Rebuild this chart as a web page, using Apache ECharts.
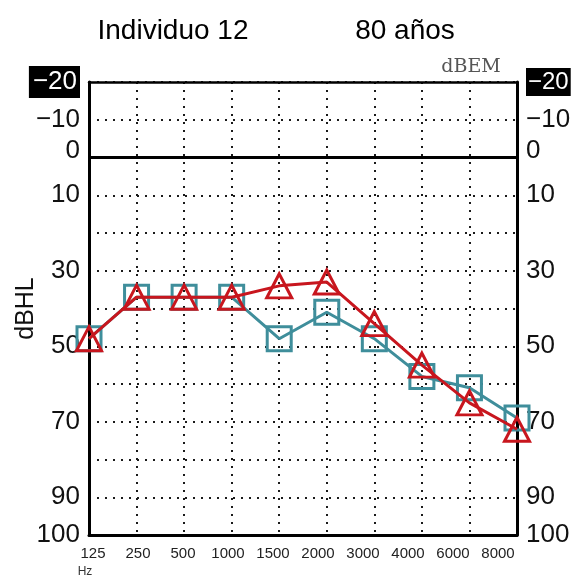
<!DOCTYPE html>
<html>
<head>
<meta charset="utf-8">
<script src="https://cdn.jsdelivr.net/npm/echarts@6/dist/echarts.min.js"></script>
<style>
  html, body { margin: 0; padding: 0; background: #fff; }
  #chart { width: 576px; height: 580px; }
</style>
</head>
<body>
<div id="chart"></div>
<script>
// Audiogram frequencies (Hz), evenly spaced columns
const freqLabels = ['125', '250', '500', '1000', '1500', '2000', '3000', '4000', '6000', '8000'];
// Hearing thresholds in dB HL
const redEar = [48, 37, 37, 37, 34, 33, 44, 55, 65, 72];   // triangles
const tealEar = [48, 37, 37, 37, 48, 41, 48, 58, 61, 69];  // squares
// Level values that carry a tick label
const levelLabels = [-20, -10, 0, 10, 30, 50, 70, 90, 100];

const RED = '#c8161e';
const TEAL = '#3f8e9b';
const digitFont = '"Liberation Sans Narrow", "Liberation Sans", Arial, sans-serif';
const LEVEL_FONT = 26;

const chart = echarts.init(document.getElementById('chart'), null, { renderer: 'canvas' });

function levelFormatter(v) {
  if (!levelLabels.includes(v)) return '';
  const s = v < 0 ? '\u2212' + Math.abs(v) : String(v);
  if (v === -20) return '{box|' + s + '}';
  if (v === 0) return '{zero|' + s + '}';
  return s;
}

const dotted = { color: '#1a1a1a', width: 2, type: [2, 6] };

function levelAxis(side, boxFont, boxPad) {
  return {
    type: 'value',
    gridIndex: 0,
    position: side,
    inverse: true,
    min: -20,
    max: 100,
    interval: 10,
    axisLine: { show: true, lineStyle: { color: '#000', width: 3 } },
    axisTick: { show: false },
    splitLine: { show: side === 'left', lineStyle: dotted },
    axisLabel: {
      show: true,
      showMinLabel: true,
      showMaxLabel: true,
      margin: 9,
      color: '#111',
      fontFamily: digitFont,
      fontSize: LEVEL_FONT,
      formatter: levelFormatter,
      rich: {
        box: {
          fontFamily: digitFont,
          fontSize: boxFont,
          color: '#fff',
          backgroundColor: '#000',
          padding: boxPad
        },
        zero: {
          fontFamily: digitFont,
          fontSize: LEVEL_FONT,
          color: '#111',
          padding: [0, 0, 14, 0]
        }
      }
    },
    name: side === 'left' ? 'dBHL' : '',
    nameLocation: 'middle',
    nameRotate: 90,
    nameGap: 50,
    nameMoveOverlap: false,
    nameTextStyle: {
      fontFamily: '"Liberation Sans", Arial, sans-serif',
      fontSize: 25,
      color: '#111'
    }
  };
}

const option = {
  animation: false,
  backgroundColor: '#fff',
  grid: [
    { left: 89, right: 59, top: 82, bottom: 45, show: false, containLabel: false, outerBoundsMode: 'none' },
    // frequency label strip
    { left: 93, right: 78, top: 82, bottom: 45, show: false, containLabel: false, outerBoundsMode: 'none' }
  ],
  xAxis: [
    {
      type: 'category',
      gridIndex: 0,
      position: 'bottom',
      data: freqLabels,
      boundaryGap: false,
      axisLine: { show: true, onZero: false, lineStyle: { color: '#000', width: 3 } },
      axisTick: { show: false },
      axisLabel: { show: false },
      splitLine: { show: true, lineStyle: dotted }
    },
    {
      type: 'category',
      gridIndex: 0,
      position: 'top',
      data: freqLabels,
      boundaryGap: false,
      axisLine: { show: true, onZero: false, lineStyle: { color: '#000', width: 2.5 } },
      axisTick: { show: false },
      axisLabel: { show: false },
      splitLine: { show: false }
    },
    {
      type: 'category',
      gridIndex: 1,
      position: 'bottom',
      data: freqLabels,
      boundaryGap: false,
      axisLine: { show: false },
      axisTick: { show: false },
      splitLine: { show: false },
      axisLabel: {
        show: true,
        interval: 0,
        margin: 11,
        color: '#222',
        fontFamily: digitFont,
        fontSize: 15
      }
    }
  ],
  yAxis: [
    levelAxis('left', LEVEL_FONT, [3, 3, 3, 4]),
    levelAxis('right', 24, [2, 2, 2, 2]),
    { type: 'value', gridIndex: 1, show: false, min: 0, max: 1 }
  ],
  graphic: [
    {
      type: 'text', x: 173, y: 31,
      style: {
        text: 'Individuo 12', fill: '#000', textAlign: 'center', textVerticalAlign: 'middle',
        font: '28px "Liberation Sans", Arial, sans-serif'
      }
    },
    {
      type: 'text', x: 405, y: 31,
      style: {
        text: '80 años', fill: '#000', textAlign: 'center', textVerticalAlign: 'middle',
        font: '28px "Liberation Sans", Arial, sans-serif'
      }
    },
    {
      type: 'text', x: 471, y: 67,
      style: {
        text: 'dBEM', fill: '#555', textAlign: 'center', textVerticalAlign: 'middle',
        font: '19px "DejaVu Serif", "Liberation Serif", serif'
      }
    },
    {
      type: 'text', x: 85, y: 572,
      style: {
        text: 'Hz', fill: '#333', textAlign: 'center', textVerticalAlign: 'middle',
        font: '12px ' + digitFont
      }
    }
  ],
  series: [
    {
      name: 'teal',
      type: 'line',
      xAxisIndex: 0,
      yAxisIndex: 0,
      data: tealEar,
      symbol: 'rect',
      symbolSize: 24,
      lineStyle: { color: TEAL, width: 3 },
      itemStyle: { color: 'rgba(0,0,0,0)', borderColor: TEAL, borderWidth: 3 },
      z: 3,
      markLine: {
        silent: true,
        symbol: 'none',
        label: { show: false },
        lineStyle: { color: '#000', width: 3, type: 'solid' },
        data: [{ yAxis: 0 }]
      }
    },
    {
      name: 'red',
      type: 'line',
      xAxisIndex: 0,
      yAxisIndex: 0,
      data: redEar,
      symbol: 'triangle',
      symbolSize: [25, 24],
      lineStyle: { color: RED, width: 3 },
      itemStyle: { color: 'rgba(0,0,0,0)', borderColor: RED, borderWidth: 3 },
      z: 4
    }
  ]
};

chart.setOption(option);
</script>
</body>
</html>
